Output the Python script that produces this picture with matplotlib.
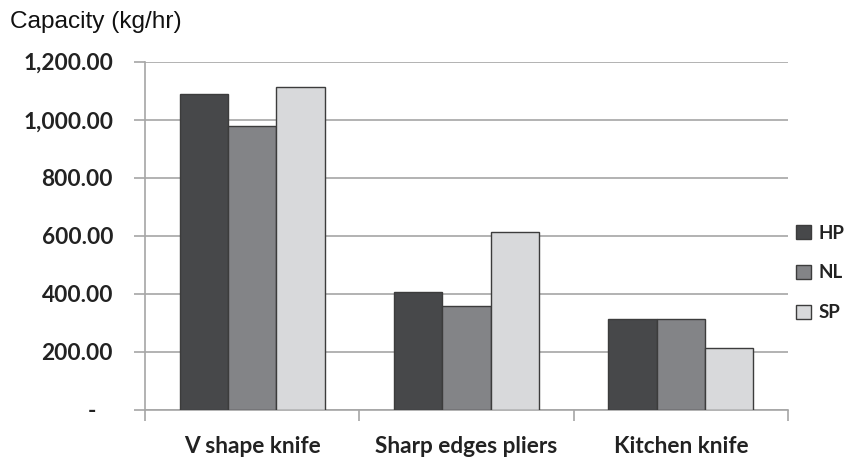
import matplotlib
matplotlib.use("Agg")
import matplotlib.pyplot as plt
import numpy as np
from matplotlib.patches import Patch
from matplotlib.ticker import FixedLocator

categories = ["V shape knife", "Sharp edges pliers", "Kitchen knife"]
series = ["HP", "NL", "SP"]
hp = [1090, 407, 312]
nl = [980, 360, 312]
sp = [1113, 613, 212]
yticks = [0, 200, 400, 600, 800, 1000, 1200]
ytick_labels = ["-   ", "200.00", "400.00", "600.00", "800.00", "1,000.00", "1,200.00"]

colors = ["#47484a", "#838487", "#d8d9db"]
edge = "#3c3c3c"
grid = "#a6a6a6"
txt = "#222222"

fig = plt.figure(figsize=(8.46, 4.59), dpi=100)
ax = fig.add_axes([145/846, 1-410/459, (788-145)/846, (410-61.7)/459])

x = np.arange(len(categories))
w = 0.225
for i, (vals, c) in enumerate(zip([hp, nl, sp], colors)):
    ax.bar(x + (i-1)*w, vals, w, color=c, edgecolor=edge, linewidth=1.0, zorder=3, label=series[i])

ax.set_xlim(-0.5, 2.5)
ax.set_ylim(0, 1200)
ax.set_yticks(yticks)
ax.set_yticklabels(ytick_labels)
ax.yaxis.grid(True, color=grid, linewidth=1.2, zorder=0)
for s in ["top", "right"]:
    ax.spines[s].set_visible(False)
for s in ["left", "bottom"]:
    ax.spines[s].set_color(grid)
    ax.spines[s].set_linewidth(1.2)

ax.tick_params(axis="y", length=8, width=1.2, color=grid, pad=15, labelsize=16.3, labelcolor=txt)
for lab in ax.get_yticklabels():
    lab.set_fontfamily("Lato")
    lab.set_fontweight("bold")

ax.set_xticks(x)
ax.set_xticklabels(categories)
ax.xaxis.set_minor_locator(FixedLocator([-0.5, 0.5, 1.5, 2.5]))
ax.tick_params(axis="x", which="major", length=0, pad=19, labelsize=16.3, labelcolor=txt)
ax.tick_params(axis="x", which="minor", length=8, width=1.2, color=grid)
for lab in ax.get_xticklabels():
    lab.set_fontfamily("Lato")
    lab.set_fontweight("bold")

fig.text(10/846, 1-22/459, "Capacity (kg/hr)", fontsize=17.6, family="Liberation Sans",
         va="center", ha="left", color="#111111")

handles = [Patch(facecolor=c, edgecolor=edge, linewidth=1.0) for c in colors]
leg = fig.legend(handles, series, loc="center left", bbox_to_anchor=(796/846, 1-273/459),
                 frameon=False, borderpad=0, borderaxespad=0,
                 handlelength=0.8, handleheight=0.8, handletextpad=0.4,
                 labelspacing=1.22, prop={"family": "Lato", "weight": "bold", "size": 13.5})
for t in leg.get_texts():
    t.set_color(txt)

fig.savefig("out.png", dpi=100)
